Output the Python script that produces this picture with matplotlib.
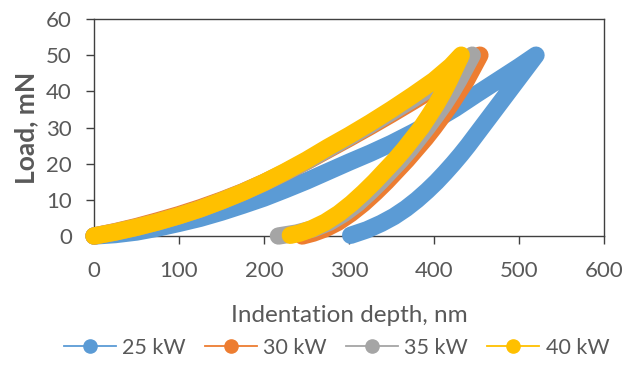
import matplotlib.pyplot as plt
from matplotlib.lines import Line2D

# ── Datos (profundidad en nm, carga en mN) ───────────────────────────────────
# Cada serie: rama de carga seguida de la rama de descarga
LABELS = ["25 kW", "30 kW", "35 kW", "40 kW"]
COLORS = ["#5B9BD5", "#ED7D31", "#A5A5A5", "#FFC000"]

depth_25 = [0, 25, 50, 75, 100, 125, 150, 175, 200, 225, 250, 275, 300, 325,
            350, 375, 400, 425, 450, 475, 500, 520,
            512, 504, 496, 488, 480, 472, 464, 456, 448, 440, 431.5, 422.5, 413,
            403, 392, 380, 367, 353, 338, 321, 302]
load_25 = [0, 0.4, 1.1, 2.2, 3.5, 4.9, 6.6, 8.5, 10.5, 12.8, 15.2, 17.8, 20.4, 22.9,
           25.6, 28.6, 31.8, 35.3, 39.2, 43.0, 46.8, 50,
           47.5, 45.0, 42.5, 40.0, 37.5, 35.0, 32.5, 30.0, 27.5, 25.0, 22.5, 20.0, 17.5,
           15.0, 12.5, 10.0, 7.6, 5.4, 3.5, 1.7, 0.2]

depth_30 = [0, 25, 50, 75, 100, 125, 150, 175, 200, 225, 250, 275, 300, 325,
            350, 375, 400, 425, 454,
            446, 438, 429, 420, 410, 400, 390, 379, 368, 356, 344, 331, 317,
            302, 287, 272, 258, 245]
load_30 = [0, 1.2, 2.6, 4.2, 5.9, 7.8, 9.9, 12.2, 14.8, 17.6, 20.6, 23.8, 27.0, 30.3,
           33.7, 37.2, 40.8, 44.6, 50,
           46.5, 43.0, 39.8, 36.5, 33.2, 30.0, 27.0, 24.0, 21.0, 18.0, 15.0, 12.0, 9.0,
           6.2, 3.8, 2.0, 0.8, 0]

depth_35 = [0, 25, 50, 75, 100, 125, 150, 175, 200, 225, 250, 275, 300, 325,
            350, 375, 400, 425, 445,
            437, 429, 421, 412, 402, 392, 382, 372, 361, 349, 337, 324, 310,
            294, 277, 258, 238, 217]
load_35 = [0, 1.1, 2.4, 3.9, 5.6, 7.5, 9.7, 12.1, 14.7, 17.6, 20.7, 24.0, 27.3, 30.7,
           34.2, 37.8, 41.6, 45.6, 50,
           46.5, 43.0, 39.8, 36.5, 33.2, 30.0, 27.0, 24.0, 21.0, 18.0, 15.0, 12.0, 9.0,
           6.2, 3.8, 2.0, 0.8, 0]

depth_40 = [0, 25, 50, 75, 100, 125, 150, 175, 200, 225, 250, 275, 300, 325,
            350, 375, 400, 420, 432,
            425, 418, 411, 403, 394, 385, 375, 365, 354, 342, 330, 317, 303,
            288, 272, 256, 242, 231]
load_40 = [0, 1.1, 2.4, 3.9, 5.6, 7.5, 9.7, 12.1, 14.8, 17.8, 21.0, 24.5, 27.8, 31.3,
           35.0, 38.9, 43.0, 47.0, 50,
           46.5, 43.0, 39.8, 36.5, 33.2, 30.0, 27.0, 24.0, 21.0, 18.0, 15.0, 12.0, 9.0,
           6.2, 3.8, 2.0, 0.8, 0.2]

X_TICKS = [0, 100, 200, 300, 400, 500, 600]
Y_TICKS = [0, 10, 20, 30, 40, 50, 60]

TEXT_COLOR = "#595959"
AXIS_COLOR = "#404040"
plt.rcParams["font.family"] = ["Lato", "DejaVu Sans"]

fig = plt.figure(figsize=(6.35, 3.65), dpi=100)
# área de trazado en píxeles: x 94..604, y 19..236
ax = fig.add_axes([94 / 635, 1 - 236 / 365, 510 / 635, 217 / 365])

series = [(depth_25, load_25), (depth_30, load_30),
          (depth_35, load_35), (depth_40, load_40)]

# los marcadores de Excel forman una banda gruesa: línea ancha con extremos redondos
for (xs, ys), color in zip(series, COLORS):
    ax.plot(xs, ys, color=color, linewidth=12.5, solid_capstyle="round",
            solid_joinstyle="round", clip_on=False, zorder=3)

ax.set_xlim(0, 600)
ax.set_ylim(0, 60)
ax.set_xticks(X_TICKS)
ax.set_yticks(Y_TICKS)
ax.tick_params(direction="out", length=6, width=1, color=AXIS_COLOR,
               labelsize=16, labelcolor=TEXT_COLOR)
ax.tick_params(axis="x", pad=12)
ax.tick_params(axis="y", pad=10)
for side in ["left", "bottom", "top", "right"]:
    ax.spines[side].set_color(AXIS_COLOR)
    ax.spines[side].set_linewidth(1)

ax.set_xlabel("Indentation depth, nm", fontsize=17.5, color=TEXT_COLOR)
ax.xaxis.set_label_coords(0.5, (236 - 305) / 217)
ax.set_ylabel("Load, mN", fontsize=19, color=TEXT_COLOR, fontweight="bold")
ax.yaxis.set_label_coords((38 - 94) / 510, 0.5)

handles = [Line2D([], [], color=c, linewidth=1.3, marker="o", markersize=9.5)
           for c in COLORS]
fig.legend(handles, LABELS, loc="center", bbox_to_anchor=(0.53, 1 - 348 / 365),
           ncol=4, frameon=False, fontsize=15.5, labelcolor=TEXT_COLOR,
           handlelength=2.4, columnspacing=0.9, handletextpad=0.3)

fig.savefig("out.png", dpi=100)
